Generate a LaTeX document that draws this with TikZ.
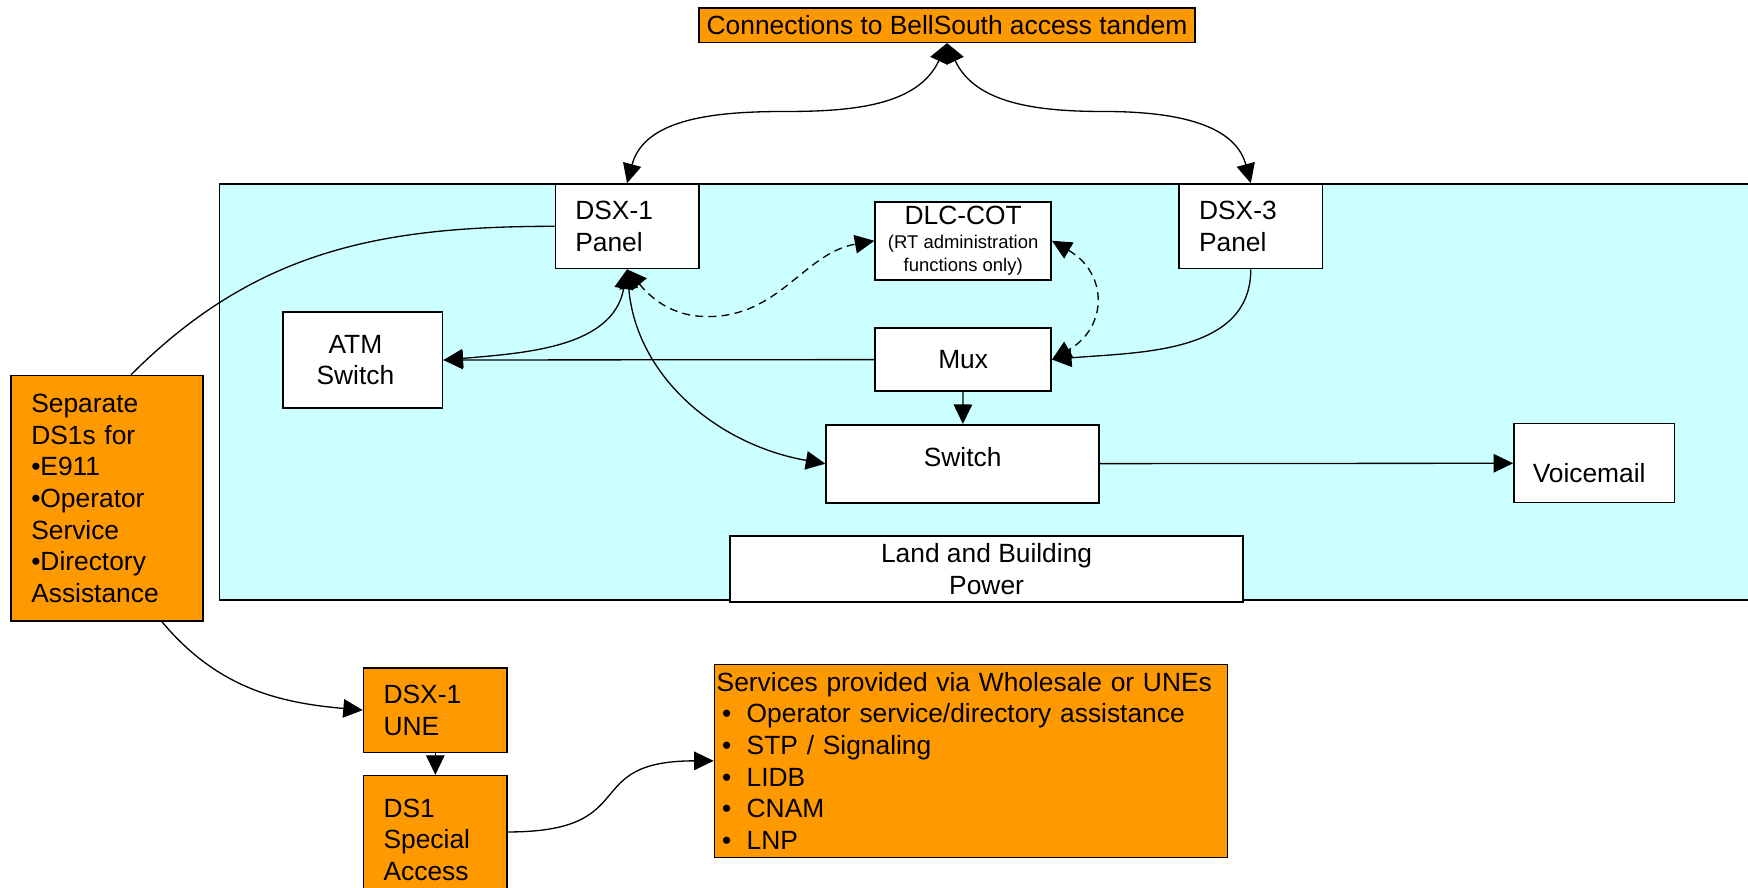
\documentclass[tikz,border=0pt]{standalone}
\usepackage{fontspec}
\setmainfont{Liberation Sans}
\usetikzlibrary{arrows.meta}
\definecolor{boxorange}{HTML}{FF9900}
\definecolor{bgcyan}{HTML}{CCFFFF}
\newcommand{\px}{0.0223cm}
\newcommand{\mainf}{\fontsize{15}{18}\selectfont}
\newcommand{\smallf}{\fontsize{10.5}{12.7}\selectfont}
\newcommand{\bul}{\hspace*{0.11cm}\makebox[0.49cm][l]{•}}

\begin{document}
\begin{tikzpicture}[x=\px, y=-\px, line width=0.75pt,
  >={Triangle[length=0.39cm,width=0.37cm]},
  admin/.style={dash pattern=on 4.5pt off 3pt},
  box/.style={draw, line width=0.9pt, fill=white, font=\mainf, inner sep=0pt, align=center},
  obox/.style={box, fill=boxorange},
  panel/.style={box, align=left, text width=2.07cm, inner xsep=0.4cm, minimum height=1.69cm}]
  \useasboundingbox (0,0) rectangle (1568,796);
  \clip (0,0) rectangle (1568,796);
  \draw[fill=bgcyan, line width=0.9pt] (197,165) rectangle (1600,538);

  \node[obox, minimum width=9.92cm, minimum height=0.69cm] (top) at (849.5,22.5) {Connections to BellSouth access tandem};
  \node[panel] (dsxa) at (562.5,203) {DSX-1\\Panel};
  \node[panel] (dsxc) at (1122,203) {DSX-3\\Panel};
  \node[box, minimum width=3.52cm, minimum height=1.56cm] (dlc) at (864,216)
    {DLC-COT\\[2pt]{\smallf\parbox{3.4cm}{\centering(RT administration\\functions only)}}};
  \node[box, minimum width=3.19cm, minimum height=1.92cm] (atm) at (325.5,323) {\hspace*{-0.3cm}ATM\\\hspace*{-0.3cm}Switch};
  \node[box, minimum width=3.52cm, minimum height=1.27cm] (mux) at (864,322.5) {Mux};
  \node[box, minimum width=5.46cm, minimum height=1.56cm] (sw) at (863.5,416) {\raisebox{0.13cm}[\height][\depth]{Switch}};
  \node[box, minimum width=3.21cm, minimum height=1.58cm] (vm) at (1430,415.5) {\raisebox{-0.19cm}[\height][\depth]{Voicemail\hspace*{0.2cm}}};
  \node[box, minimum width=10.26cm, minimum height=1.32cm] (land) at (885,510.5) {Land and Building\\Power};
  \node[obox, align=left, text width=3.03cm, inner xsep=0.4cm, minimum height=4.91cm] (sep) at (96,447)
    {Separate\\DS1s for\\•E911\\•Operator\\Service\\•Directory\\Assistance};
  \node[panel, fill=boxorange] (une) at (390.5,637) {DSX-1\\UNE};
  \node[panel, fill=boxorange, minimum height=2.56cm, anchor=north] (ds1) at (390.5,695) {DS1\\Special\\Access};
  \node[obox, align=left, text width=10.17cm, inner xsep=0.045cm, minimum height=3.86cm] (serv) at (871,682.5)
    {Services provided via Wholesale or UNEs\\\bul Operator service/directory assistance\\\bul STP / Signaling\\\bul LIDB\\\bul CNAM\\\bul LNP};

  \coordinate (ml) at (705,100);
  \coordinate (mr) at (990,100);
  \coordinate (dip) at (635,284);

  \draw[<->] (top.south) to[out=-115,in=0] (ml) to[out=180,in=75] (dsxa.north);
  \draw[<->] (top.south) to[out=-65,in=180] (mr) to[out=0,in=105] (dsxc.north);
  \draw[admin,<->] (dsxa.south) to[out=-50,in=180] (dip) to[out=0,in=190] (dlc.west);
  \draw (sep.79) to[out=45,in=180] (dsxa.west);
  \path[->]
  (mux) edge (atm)
        edge (sw)
  (sw)  edge (vm)
  (une) edge (ds1)
  (dsxc.south) edge[out=-90,in=5] (mux.east)
  (sep.-66) edge[out=-50,in=175] (une.west)
  (ds1.6) edge[out=0,in=180,looseness=1.6] (serv.west);
  \path[<->]
  (dsxa.south) edge[out=-100,in=5] (atm.east)
               edge[out=-85,in=170] (sw.west)
  (dlc.east) edge[admin,out=-30,in=30,looseness=1.4] (mux.east);
\end{tikzpicture}
\end{document}
